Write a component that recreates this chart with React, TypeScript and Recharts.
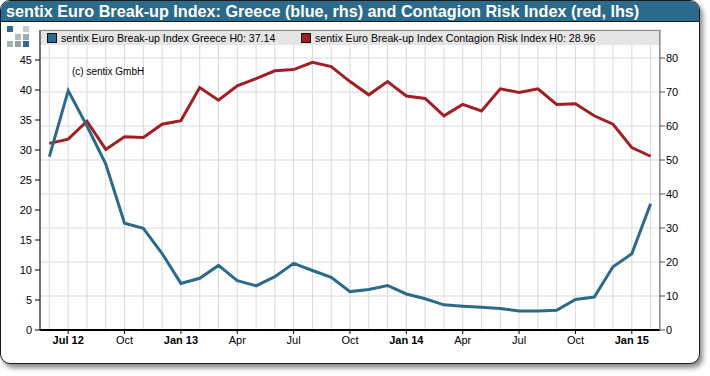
import { LineChart, Line, XAxis, YAxis, CartesianGrid } from 'recharts';

const MONTHS = [
  '2012-06', '2012-07', '2012-08', '2012-09', '2012-10', '2012-11', '2012-12',
  '2013-01', '2013-02', '2013-03', '2013-04', '2013-05', '2013-06', '2013-07',
  '2013-08', '2013-09', '2013-10', '2013-11', '2013-12', '2014-01', '2014-02',
  '2014-03', '2014-04', '2014-05', '2014-06', '2014-07', '2014-08', '2014-09',
  '2014-10', '2014-11', '2014-12', '2015-01', '2015-02',
];

// Greece, right axis
const GREECE = [
  51.0, 70.4, 60.0, 48.8, 31.4, 29.9, 22.5, 13.7, 15.2, 19.0, 14.5,
  13.0, 15.7, 19.6, 17.5, 15.5, 11.3, 11.9, 13.1, 10.6, 9.2, 7.4,
  7.0, 6.7, 6.3, 5.6, 5.6, 5.8, 9.0, 9.7, 18.6, 22.4, 37.14,
];

// Contagion risk, left axis
const CONTAGION = [
  31.1, 31.8, 34.8, 30.1, 32.2, 32.1, 34.3, 34.9, 40.4, 38.3, 40.7,
  41.9, 43.2, 43.4, 44.6, 43.9, 41.4, 39.2, 41.4, 39.0, 38.6, 35.7,
  37.6, 36.5, 40.2, 39.6, 40.2, 37.6, 37.7, 35.7, 34.3, 30.4, 28.96,
];

const TICK_LABELS: Record<string, string> = {
  '2012-07': 'Jul 12', '2012-10': 'Oct', '2013-01': 'Jan 13', '2013-04': 'Apr',
  '2013-07': 'Jul', '2013-10': 'Oct', '2014-01': 'Jan 14', '2014-04': 'Apr',
  '2014-07': 'Jul', '2014-10': 'Oct', '2015-01': 'Jan 15',
};
const BOLD_LABELS = ['Jul 12', 'Jan 13', 'Jan 14', 'Jan 15'];

const LEFT_TICKS = [0, 5, 10, 15, 20, 25, 30, 35, 40, 45];
const RIGHT_TICKS = [0, 10, 20, 30, 40, 50, 60, 70, 80];

const BLUE = '#2b6a8b';
const RED = '#a11f24';
const FONT = 'Arial, "Liberation Sans", sans-serif';

const data = MONTHS.map((m, i) => ({ month: m, greece: GREECE[i], contagion: CONTAGION[i] }));

function MonthTick(props: any) {
  const { x, y, payload } = props;
  const label = TICK_LABELS[payload.value];
  if (!label) return <g />;
  return (
    <g>
      <line x1={x} x2={x} y1={y - 6} y2={y - 2} stroke="#000" strokeWidth={1} />
      <text
        x={x}
        y={y}
        dy="0.71em"
        textAnchor="middle"
        fontSize={11}
        fontFamily={FONT}
        fontWeight={BOLD_LABELS.includes(label) ? 'bold' : 'normal'}
        fill="#000"
      >
        {label}
      </text>
    </g>
  );
}

function LegendSquare({ color }: { color: string }) {
  return (
    <span
      style={{
        display: 'inline-block',
        width: 8,
        height: 8,
        background: color,
        border: '1px solid #111',
        marginRight: 4,
        verticalAlign: -1,
      }}
    />
  );
}

const LOGO = [
  { x: 7, y: 26, c: '#2f6a8e' },
  { x: 23, y: 26, c: '#c3cbd1' },
  { x: 15, y: 34, c: '#b0bac2' },
  { x: 23, y: 34, c: '#9eaab3' },
  { x: 7, y: 41, c: '#a7b2ba' },
  { x: 15, y: 41, c: '#93a1ab' },
  { x: 23, y: 41, c: '#2f6a8e' },
];

export default function App() {
  return (
    <div style={{ position: 'absolute', left: 0, top: 0, width: 710, height: 376, background: '#fff', fontFamily: FONT }}>
      <div
        style={{
          position: 'absolute',
          left: 0,
          top: 0,
          width: 698,
          height: 362,
          border: '1.5px solid #1a1a1a',
          borderRadius: 10,
          boxShadow: '3px 4px 5px rgba(0,0,0,0.45)',
          overflow: 'hidden',
          background: '#fff',
        }}
      >
        <div
          style={{
            height: 20,
            background: '#2a6a8c',
            borderBottom: '1px solid #1a1a1a',
            color: '#fff',
            fontWeight: 'bold',
            fontSize: 16.2,
            lineHeight: '21px',
            paddingLeft: 5,
            whiteSpace: 'nowrap',
          }}
        >
          sentix Euro Break-up Index: Greece (blue, rhs) and Contagion Risk Index (red, lhs)
        </div>
      </div>

      {LOGO.map((s, i) => (
        <div key={i} style={{ position: 'absolute', left: s.x, top: s.y, width: 6, height: 6, background: s.c }} />
      ))}

      <div style={{ position: 'absolute', left: 0, top: 0 }}>
        <LineChart width={710} height={376} data={data} margin={{ top: 30, right: 0, bottom: 16, left: 0 }}>
          <CartesianGrid yAxisId="right" stroke="#d9d9d9" strokeWidth={1} />
          <XAxis
            dataKey="month"
            interval={0}
            tick={<MonthTick />}
            tickLine={false}
            tickSize={4}
            tickMargin={2}
            height={30}
            padding={{ left: 9.4, right: 9.4 }}
            axisLine={{ stroke: '#000', strokeWidth: 2 }}
          />
          <YAxis
            yAxisId="left"
            orientation="left"
            width={40}
            domain={[0, 50]}
            ticks={LEFT_TICKS}
            interval={0}
            tickSize={5}
            tickMargin={3}
            tick={{ fontSize: 11, fill: '#000', fontFamily: FONT }}
            tickLine={{ stroke: '#000' }}
            axisLine={{ stroke: '#000' }}
          />
          <YAxis
            yAxisId="right"
            orientation="right"
            width={50}
            domain={[0, 300 / 3.4]}
            ticks={RIGHT_TICKS}
            interval={0}
            tickSize={5}
            tickMargin={1}
            tick={{ fontSize: 11, fill: '#000', fontFamily: FONT }}
            tickLine={{ stroke: '#555' }}
            axisLine={{ stroke: '#8c8c8c' }}
          />
          <Line
            yAxisId="left"
            dataKey="contagion"
            stroke={RED}
            strokeWidth={3}
            dot={false}
            type="linear"
            isAnimationActive={false}
          />
          <Line
            yAxisId="right"
            dataKey="greece"
            stroke={BLUE}
            strokeWidth={3}
            dot={false}
            type="linear"
            isAnimationActive={false}
          />
        </LineChart>
      </div>

      <div
        style={{
          position: 'absolute',
          left: 40,
          top: 30,
          width: 619,
          height: 299,
          border: '1px solid #8c8c8c',
          borderBottom: 'none',
          borderLeft: 'none',
          pointerEvents: 'none',
        }}
      />
      <div
        style={{
          position: 'absolute',
          left: 41,
          top: 31,
          width: 618,
          height: 14,
          background: '#e5e5e5',
          fontSize: 10.6,
          lineHeight: '14px',
          color: '#000',
          whiteSpace: 'nowrap',
        }}
      >
        <span style={{ position: 'absolute', left: 6 }}>
          <LegendSquare color={BLUE} />
          sentix Euro Break-up Index Greece H0: 37.14
        </span>
        <span style={{ position: 'absolute', left: 260 }}>
          <LegendSquare color={RED} />
          sentix Euro Break-up Index Contagion Risk Index H0: 28.96
        </span>
      </div>
      <div style={{ position: 'absolute', left: 72, top: 66, fontSize: 10, color: '#000', whiteSpace: 'nowrap' }}>
        (c) sentix GmbH
      </div>
    </div>
  );
}
